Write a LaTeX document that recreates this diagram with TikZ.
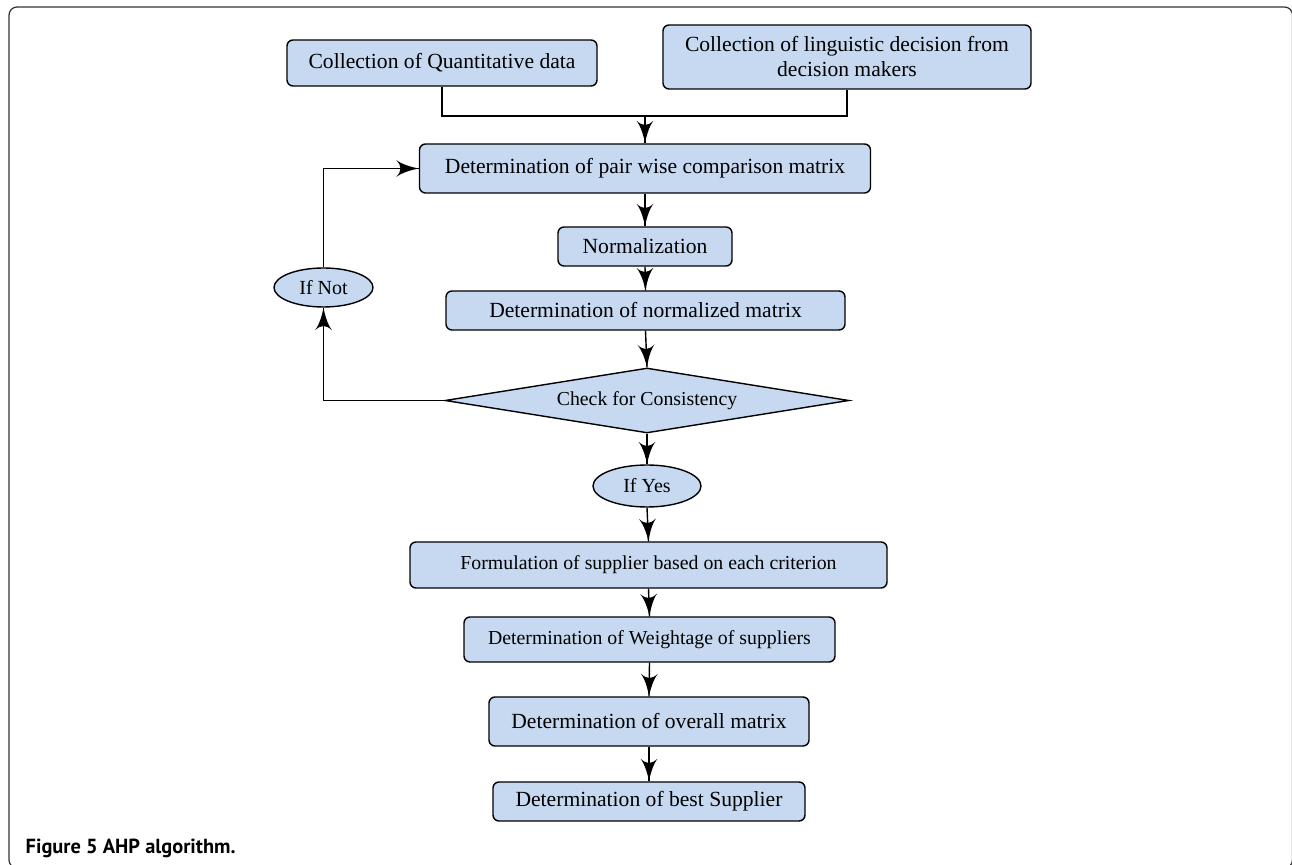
\documentclass[tikz,border=0pt]{standalone}
\usepackage{fontspec}
\setmainfont{Liberation Serif}
\newfontfamily\capfont{PT Sans}
\usepackage{tikz}
\usetikzlibrary{arrows}
\usetikzlibrary{decorations.markings}
\usetikzlibrary{shapes.geometric}
\definecolor{stepblue}{RGB}{198,217,240}
\tikzset{flow/.style = {decoration={markings,
                                    mark=at position 1 with {\arrow[scale=2.3]{latex'}}},
                        postaction={decorate}}}
\tikzset{box/.style = {draw, fill=stepblue, rounded corners=3pt, inner sep=0,
                       font=\fontsize{10.8}{12.5}\selectfont, align=center}}
\tikzset{smallbox/.style = {box, font=\fontsize{9.9}{12}\selectfont}}
\tikzset{oval/.style = {draw, fill=stepblue, ellipse, inner sep=0,
                        font=\fontsize{10}{12}\selectfont}}
\tikzset{check/.style = {draw, fill=stepblue, diamond, aspect=6.2, inner sep=0,
                         font=\fontsize{9.9}{12}\selectfont}}

\begin{document}
\begin{tikzpicture}[x=0.5pt, y=-0.5pt, line width=0.7pt]
    \useasboundingbox (0, 0) rectangle (1292, 865);
    \draw [black!80, line width=0.6pt, rounded corners=4pt] (9, 7) rectangle (1292.5, 868);

    % inputs
    \node [box, minimum width=155pt, minimum height=23pt] (quant) at (442, 63) {Collection of Quantitative data};
    \node [box, minimum width=184pt, minimum height=32pt] (ling) at (847, 57) {Collection of linguistic decision from\\decision makers};
    \coordinate (join) at (645, 116);
    \draw (quant.south) |- (join);
    \draw (ling.south) |- (join);

    % main chain
    \node [box, minimum width=225.5pt, minimum height=24.5pt] (pair) at (645, 168.5) {Determination of pair wise comparison matrix};
    \node [box, minimum width=87pt, minimum height=19.5pt] (norm) at (645, 246.5) {Normalization};
    \node [box, minimum width=199.5pt, minimum height=19.5pt] (nmat) at (645.5, 310.5) {Determination of normalized matrix};
    \node [check, minimum width=202pt, minimum height=32.5pt] (cons) at (647, 400.5) {Check for Consistency};
    \node [oval, minimum width=54pt, minimum height=21pt] (yes) at (647, 486) {If Yes};
    \node [oval, minimum width=49.5pt, minimum height=19.5pt] (no) at (323.5, 287.5) {If Not};
    \node [smallbox, minimum width=238.5pt, minimum height=23pt] (form) at (648.5, 565) {Formulation of supplier based on each criterion};
    \node [smallbox, minimum width=185.5pt, minimum height=22.5pt] (weight) at (649.5, 639.5) {Determination of Weightage of suppliers};
    \node [box, minimum width=160pt, minimum height=24.5pt] (overall) at (649, 721.5) {Determination of overall matrix};
    \node [box, minimum width=156pt, minimum height=19.5pt] (best) at (649, 801.5) {Determination of best Supplier};

    \draw [flow] (join) -- (pair.north);
    \draw [flow] (pair.south) -- (norm.north);
    \draw [flow] (norm.south) -- (nmat.north);
    \draw [flow] (nmat.south) -- (cons.north);
    \draw [flow] (cons.south) -- (yes.north);
    \draw [flow] (yes.south) -- (form.north);
    \draw [flow] (form.south) -- (weight.north);
    \draw [flow] (weight.south) -- (overall.north);
    \draw [flow] (overall.south) -- (best.north);

    % loop back
    \draw [flow] (cons.west) -| (no.south);
    \draw [flow] (no.north) |- (pair.west);

    \node [anchor=base west, inner sep=0, font=\capfont\bfseries\fontsize{10.2}{12}\selectfont] (caption) at (25, 854) {Figure 5 AHP algorithm.};
\end{tikzpicture}
\end{document}
